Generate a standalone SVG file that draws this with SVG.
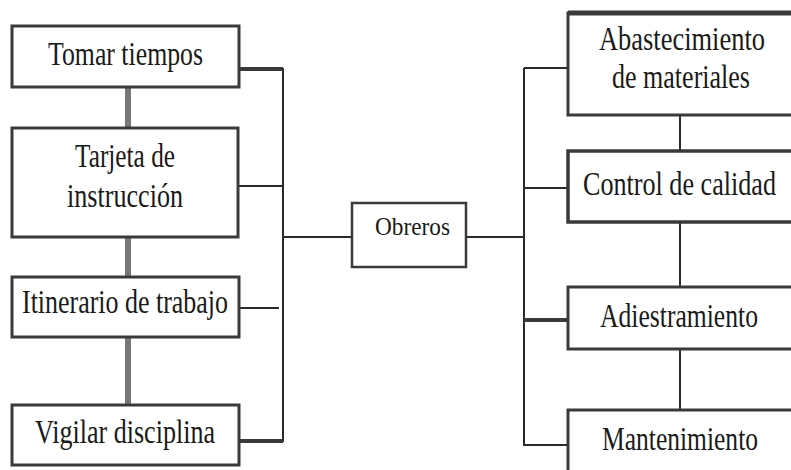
<svg xmlns="http://www.w3.org/2000/svg" width="791" height="470" viewBox="0 0 791 470">
<style>
.box{fill:#fff;stroke:#3a3a3a;stroke-width:3}
.t{font-family:"Liberation Serif","Times New Roman",serif;font-size:33px;fill:#1a1a1a}
.ts{font-family:"Liberation Serif","Times New Roman",serif;font-size:25px;fill:#1a1a1a}
.ln{stroke:#2a2a2a;stroke-width:2;fill:none}
.lt{stroke:#3a3a3a;stroke-width:4;fill:none}
.lg{stroke:#777;stroke-width:6;fill:none}
</style>
<rect width="791" height="470" fill="#fff"/>
<g id="connectors">
<line class="lg" x1="128" y1="87" x2="128" y2="128"/>
<line class="lg" x1="128" y1="237" x2="128" y2="277"/>
<line class="lg" x1="128" y1="337" x2="128" y2="405"/>
<line class="ln" x1="283" y1="68" x2="283" y2="442"/>
<line class="lt" x1="239" y1="69" x2="283" y2="69"/>
<line class="ln" x1="238" y1="186" x2="283" y2="186"/>
<line class="ln" x1="240" y1="308" x2="279" y2="308"/>
<line class="lt" x1="239" y1="441" x2="283" y2="441"/>
<line class="ln" x1="283" y1="237" x2="352" y2="237"/>
<line class="ln" x1="466" y1="237" x2="524" y2="237"/>
<line class="ln" x1="524" y1="68" x2="524" y2="446"/>
<line class="ln" x1="524" y1="68" x2="568" y2="68"/>
<line class="ln" x1="524" y1="188" x2="568" y2="188"/>
<line class="lt" x1="524" y1="320" x2="568" y2="320"/>
<line class="ln" x1="524" y1="445" x2="568" y2="445"/>
<line class="ln" x1="680" y1="115" x2="680" y2="150"/>
<line class="ln" x1="680" y1="222" x2="680" y2="287"/>
<line class="ln" x1="680" y1="349" x2="680" y2="410"/>
</g>
<g id="tomar">
<rect class="box" x="12" y="26" width="227" height="61"/>
<text class="t" x="48" y="65" textLength="155" lengthAdjust="spacingAndGlyphs">Tomar tiempos</text>
</g>
<g id="tarjeta">
<rect class="box" x="12" y="128" width="226" height="109"/>
<text class="t" x="75" y="167" textLength="100" lengthAdjust="spacingAndGlyphs">Tarjeta de</text>
<text class="t" x="67" y="207" textLength="116" lengthAdjust="spacingAndGlyphs">instrucción</text>
</g>
<g id="itinerario">
<rect class="box" x="12" y="277" width="227" height="60"/>
<text class="t" x="22" y="313" textLength="206" lengthAdjust="spacingAndGlyphs">Itinerario de trabajo</text>
</g>
<g id="vigilar">
<rect class="box" x="12" y="405" width="227" height="60"/>
<text class="t" x="35" y="443" textLength="180" lengthAdjust="spacingAndGlyphs">Vigilar disciplina</text>
</g>
<g id="obreros">
<rect class="box" x="352" y="203" width="114" height="64" style="stroke-width:2.5"/>
<text class="ts" x="375" y="235" textLength="75" lengthAdjust="spacingAndGlyphs">Obreros</text>
</g>
<g id="abastecimiento">
<rect class="box" x="568" y="13" width="225" height="102"/>
<line x1="568" y1="13" x2="791" y2="13" stroke="#3a3a3a" stroke-width="5"/>
<text class="t" x="599" y="50" textLength="166" lengthAdjust="spacingAndGlyphs">Abastecimiento</text>
<text class="t" x="612" y="88" textLength="138" lengthAdjust="spacingAndGlyphs">de materiales</text>
</g>
<g id="control">
<rect class="box" x="568" y="151" width="225" height="71" style="stroke-width:3.5"/>
<text class="t" x="583" y="195" textLength="193" lengthAdjust="spacingAndGlyphs">Control de calidad</text>
</g>
<g id="adiestramiento">
<rect class="box" x="568" y="287" width="225" height="62"/>
<text class="t" x="600" y="327" textLength="158" lengthAdjust="spacingAndGlyphs">Adiestramiento</text>
</g>
<g id="mantenimiento">
<rect class="box" x="568" y="410" width="225" height="62"/>
<text class="t" x="602" y="450" textLength="156" lengthAdjust="spacingAndGlyphs">Mantenimiento</text>
</g>
</svg>
